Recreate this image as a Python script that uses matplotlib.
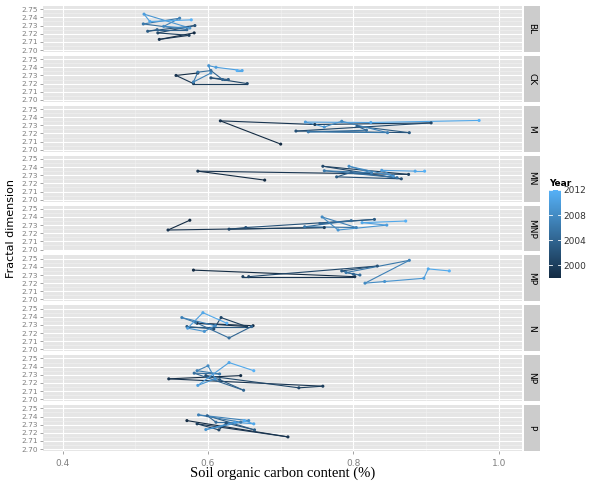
import numpy as np
import matplotlib
matplotlib.use("Agg")
import matplotlib.pyplot as plt
from matplotlib.collections import LineCollection
from matplotlib.colors import LinearSegmentedColormap, Normalize

years = list(range(1998, 2013))
treatments = ["BL", "CK", "M", "MN", "MNP", "MP", "N", "NP", "P"]

# soil organic carbon (%) and fractal dimension, one value per year
bl_x = [0.581, 0.533, 0.574, 0.531, 0.582, 0.517, 0.530, 0.571, 0.511, 0.561, 0.539, 0.575, 0.512, 0.520, 0.577]
bl_y = [2.721, 2.713, 2.718, 2.721, 2.730, 2.723, 2.725, 2.725, 2.732, 2.739, 2.729, 2.727, 2.744, 2.735, 2.737]
ck_x = [0.586, 0.556, 0.580, 0.654, 0.604, 0.628, 0.620, 0.604, 0.586, 0.580, 0.604, 0.601, 0.611, 0.647, 0.640]
ck_y = [2.733, 2.730, 2.720, 2.720, 2.727, 2.725, 2.725, 2.736, 2.734, 2.722, 2.733, 2.742, 2.740, 2.736, 2.736]
m_x = [0.700, 0.617, 0.747, 0.907, 0.721, 0.877, 0.805, 0.818, 0.738, 0.847, 0.784, 0.760, 0.734, 0.824, 0.973]
m_y = [2.707, 2.7355, 2.731, 2.733, 2.723, 2.721, 2.729, 2.724, 2.722, 2.721, 2.735, 2.728, 2.734, 2.7335, 2.736]
mn_x = [0.678, 0.586, 0.876, 0.758, 0.866, 0.777, 0.797, 0.860, 0.760, 0.825, 0.794, 0.855, 0.839, 0.885, 0.898]
mn_y = [2.724, 2.735, 2.731, 2.741, 2.7256, 2.728, 2.7335, 2.727, 2.7355, 2.733, 2.741, 2.729, 2.736, 2.735, 2.735]
mnp_x = [0.575, 0.545, 0.760, 0.629, 0.652, 0.829, 0.754, 0.797, 0.733, 0.804, 0.757, 0.779, 0.846, 0.812, 0.872]
mnp_y = [2.736, 2.724, 2.727, 2.725, 2.727, 2.737, 2.732, 2.7355, 2.728, 2.727, 2.740, 2.724, 2.730, 2.733, 2.735]
mp_x = [0.580, 0.802, 0.648, 0.656, 0.833, 0.784, 0.800, 0.809, 0.790, 0.877, 0.816, 0.843, 0.897, 0.903, 0.932]
mp_y = [2.736, 2.728, 2.728, 2.728, 2.741, 2.735, 2.731, 2.730, 2.733, 2.748, 2.720, 2.722, 2.726, 2.7375, 2.735]
n_x = [0.662, 0.585, 0.653, 0.618, 0.608, 0.571, 0.660, 0.629, 0.583, 0.564, 0.610, 0.595, 0.572, 0.593, 0.626]
n_y = [2.729, 2.732, 2.728, 2.739, 2.725, 2.728, 2.728, 2.714, 2.733, 2.739, 2.729, 2.722, 2.726, 2.745, 2.732]
np_x = [0.645, 0.546, 0.758, 0.725, 0.597, 0.616, 0.649, 0.581, 0.616, 0.585, 0.600, 0.610, 0.586, 0.629, 0.663]
np_y = [2.729, 2.725, 2.716, 2.714, 2.729, 2.724, 2.711, 2.732, 2.731, 2.735, 2.741, 2.725, 2.717, 2.745, 2.735]
p_x = [0.571, 0.710, 0.585, 0.615, 0.625, 0.664, 0.599, 0.611, 0.645, 0.587, 0.656, 0.597, 0.637, 0.663, 0.650]
p_y = [2.735, 2.715, 2.731, 2.7236, 2.732, 2.7236, 2.741, 2.733, 2.733, 2.742, 2.735, 2.724, 2.733, 2.731, 2.735]

xs = [bl_x, ck_x, m_x, mn_x, mnp_x, mp_x, n_x, np_x, p_x]
ys = [bl_y, ck_y, m_y, mn_y, mnp_y, mp_y, n_y, np_y, p_y]

cmap = LinearSegmentedColormap.from_list("gg", ["#132B43", "#56B1F7"])
norm = Normalize(min(years), max(years))

fig = plt.figure(figsize=(6.0, 4.82), dpi=100)
left, right = 43 / 600, 522 / 600
top, bottom = 1 - 6 / 482, 1 - 451 / 482
gap = 4 / 482
h = (top - bottom - 8 * gap) / 9

for i, name in enumerate(treatments):
    y0 = top - (i + 1) * h - i * gap
    ax = fig.add_axes([left, y0, right - left, h])
    ax.set_facecolor("#E5E5E5")
    x = np.array(xs[i])
    y = np.array(ys[i])
    pts = np.column_stack([x, y])
    segs = np.stack([pts[:-1], pts[1:]], axis=1)
    lc = LineCollection(segs, colors=cmap(norm(np.array(years[:-1]))), linewidths=0.8, zorder=3)
    ax.add_collection(lc)
    ax.scatter(x, y, c=years, cmap=cmap, norm=norm, s=5, zorder=4, linewidths=0)
    ax.set_xlim(0.373, 1.032)
    ax.set_ylim(2.6977, 2.7540)
    ax.set_yticks([2.70, 2.71, 2.72, 2.73, 2.74, 2.75])
    ax.set_yticks(np.arange(2.705, 2.75, 0.01), minor=True)
    ax.set_xticks([0.4, 0.6, 0.8, 1.0])
    ax.set_xticks([0.5, 0.7, 0.9], minor=True)
    ax.grid(which="major", color="white", linewidth=0.8)
    ax.grid(which="minor", color="#F2F2F2", linewidth=0.4)
    ax.set_axisbelow(True)
    for s in ax.spines.values():
        s.set_visible(False)
    ax.tick_params(axis="y", which="major", labelsize=5.3, labelcolor="#7F7F7F", color="#7F7F7F",
                   length=2.5, width=0.5, pad=1)
    ax.tick_params(axis="both", which="minor", length=0)
    if i < 8:
        ax.tick_params(axis="x", which="major", length=0, labelbottom=False)
    else:
        ax.tick_params(axis="x", which="major", labelsize=6.5, labelcolor="#7F7F7F", color="#7F7F7F",
                       length=2.5, width=0.5, pad=3)
        ax.set_xticklabels(["0.4", "0.6", "0.8", "1.0"])
    ax.set_yticklabels(["2.70", "2.71", "2.72", "2.73", "2.74", "2.75"])
    # strip on the right
    strip = ax.inset_axes([1.0 + 2 / 479, 0, 16 / 479, 1])
    strip.set_facecolor("#CCCCCC")
    strip.set_xticks([])
    strip.set_yticks([])
    for s in strip.spines.values():
        s.set_visible(False)
    strip.text(0.5, 0.5, name, rotation=-90, ha="center", va="center", fontsize=6.5,
               transform=strip.transAxes)

fig.text(0.018, (top + bottom) / 2, "Fractal dimension", rotation=90, ha="center", va="center",
         fontsize=8)
fig.text((left + right) / 2, 0.018, "Soil organic carbon content (%)", ha="center", va="center",
         fontsize=10.5, family="Liberation Serif")

cax = fig.add_axes([549 / 600, 1 - 278 / 482, 12 / 600, 88 / 482])
cb = fig.colorbar(plt.cm.ScalarMappable(norm=norm, cmap=cmap), cax=cax)
cb.outline.set_visible(False)
cb.set_ticks([2000, 2004, 2008, 2012])
cax.tick_params(length=0, labelsize=6.5, labelcolor="#333333", pad=2)
for t in [2000, 2004, 2008, 2012]:
    cax.plot([0, 0.25], [t, t], color="white", lw=0.6)
    cax.plot([0.75, 1], [t, t], color="white", lw=0.6)
cax.set_title("Year", fontsize=6.5, fontweight="bold", loc="left", pad=3)

fig.savefig("out.png", dpi=100)
